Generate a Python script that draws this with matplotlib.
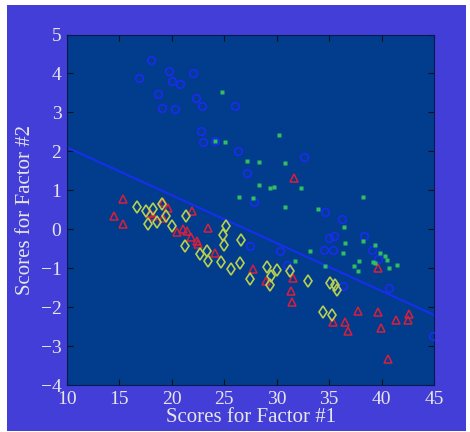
import matplotlib.pyplot as plt
from matplotlib.patches import Rectangle

# factor scores for the four groups
blue_x = [18.0, 16.9, 19.76, 20.04, 20.78, 22.05, 18.71, 19.03, 20.3, 22.33, 22.9, 26.02,
          22.75, 22.94, 24.11, 26.34, 32.63, 27.19, 27.83, 34.6, 36.2, 35.0, 35.46, 38.32,
          34.51, 35.4, 39.12, 39.69, 40.74, 30.31, 27.45, 31.0, 36.35, 44.93]
blue_y = [4.35, 3.88, 4.07, 3.81, 3.73, 4.0, 3.48, 3.11, 3.09, 3.36, 3.17, 3.17,
          2.51, 2.25, 2.27, 2.02, 1.85, 1.44, 0.71, 0.44, 0.26, -0.23, -0.18, -0.18,
          -0.53, -0.53, -0.53, -0.76, -1.51, -0.57, -0.44, -0.91, -1.47, -2.75]

green_x = [24.78, 25.1, 24.11, 30.25, 27.19, 28.31, 30.76, 28.34, 29.33, 29.77, 32.34, 26.37,
           27.77, 30.82, 33.97, 38.2, 36.42, 38.2, 36.51, 36.29, 39.4, 39.85, 40.35, 40.48,
           39.21, 39.37, 37.85, 37.4, 37.78, 40.74, 41.44, 34.6, 31.74, 33.17]
green_y = [3.53, 2.25, 2.27, 2.42, 1.76, 1.72, 1.70, 1.13, 1.05, 1.09, 1.05, 0.83,
           0.81, 0.58, 0.53, 0.84, 0.06, -0.31, -0.35, -0.61, -0.41, -0.61, -0.68, -0.78,
           -0.83, -0.88, -0.81, -0.94, -1.06, -0.99, -0.91, -0.94, -0.81, -0.57]

red_x = [15.37, 14.51, 15.37, 19.18, 19.6, 17.9, 18.2, 19.18, 21.89, 23.47, 20.46, 21.09,
         21.41, 21.83, 22.37, 22.52, 24.11, 27.77, 28.98, 31.52, 31.33, 31.43, 31.62, 39.63,
         37.72, 35.4, 36.51, 36.83, 39.69, 39.94, 41.34, 42.49, 42.64, 40.58]
red_y = [0.78, 0.35, 0.14, 0.71, 0.54, 0.42, 0.33, 0.29, 0.48, 0.03, -0.06, 0.0,
         -0.04, -0.2, -0.31, -0.37, -0.61, -1.02, -1.34, -1.25, -1.58, -1.88, 1.31, -0.99,
         -2.09, -2.39, -2.39, -2.62, -2.13, -2.53, -2.34, -2.32, -2.17, -3.32]

yel_x = [16.64, 17.53, 18.23, 19.09, 17.75, 18.61, 19.41, 19.98, 21.35, 21.25, 22.68, 23.38,
         23.47, 24.69, 24.91, 25.16, 24.97, 26.59, 26.5, 25.64, 27.45, 29.04, 30.0, 29.42,
         29.36, 31.27, 33.01, 35.08, 35.56, 35.72, 34.45, 35.3]
yel_y = [0.57, 0.46, 0.53, 0.65, 0.14, 0.18, 0.33, 0.07, 0.35, -0.44, -0.64, -0.55,
         -0.81, -0.85, -0.14, 0.08, -0.4, -0.27, -0.87, -1.01, -1.27, -0.98, -1.04, -1.19,
         -1.42, -1.08, -1.34, -1.38, -1.42, -1.55, -2.12, -2.21]

# discriminant line end points
line_x = [10, 45]
line_y = [2.1, -2.2]

x_ticks = [10, 15, 20, 25, 30, 35, 40, 45]
y_ticks = [-4, -3, -2, -1, 0, 1, 2, 3, 4, 5]

plt.rcParams['font.family'] = ['Liberation Serif', 'DejaVu Serif']
txt = '#e6e6e6'

fig = plt.figure(figsize=(4.7, 4.32), dpi=100, facecolor='white')
fig.patches.append(Rectangle((7 / 470, 1 / 432), 459 / 470, 426 / 432,
                             transform=fig.transFigure, facecolor='#443ed8',
                             edgecolor='none', zorder=-10))
ax = fig.add_axes([67 / 470, 47 / 432, 367 / 470, 350.5 / 432])
ax.set_facecolor('#023c8c')

ax.plot(line_x, line_y, color='#1530e8', lw=1.6, zorder=2)
ax.plot(blue_x, blue_y, 'o', ms=5.5, mfc='none', mec='#1a2cf0', mew=1.2, zorder=3)
ax.plot(red_x, red_y, '^', ms=6, mfc='none', mec='#d8203c', mew=1.1, zorder=3)
ax.plot(yel_x, yel_y, 'd', ms=6.3, mfc='none', mec='#b8d050', mew=1.2, zorder=3)
ax.plot(green_x, green_y, 's', ms=2.5, color='#30c060', mec='none', zorder=4)

ax.set_xlim(10, 45)
ax.set_ylim(-4, 5)
ax.set_xticks(x_ticks)
ax.set_yticks(y_ticks)
ax.tick_params(direction='in', length=4, color='#111111', top=True, right=True,
               labelsize=14, labelcolor=txt, pad=4)
for s in ax.spines.values():
    s.set_color('#0a1a50')
    s.set_linewidth(0.8)

ax.set_xlabel('Scores for Factor #1', fontsize=15, color=txt, labelpad=0)
ax.set_ylabel('Scores for Factor #2', fontsize=15, color=txt, labelpad=4)

fig.savefig('out.png', dpi=100, facecolor=fig.get_facecolor())
